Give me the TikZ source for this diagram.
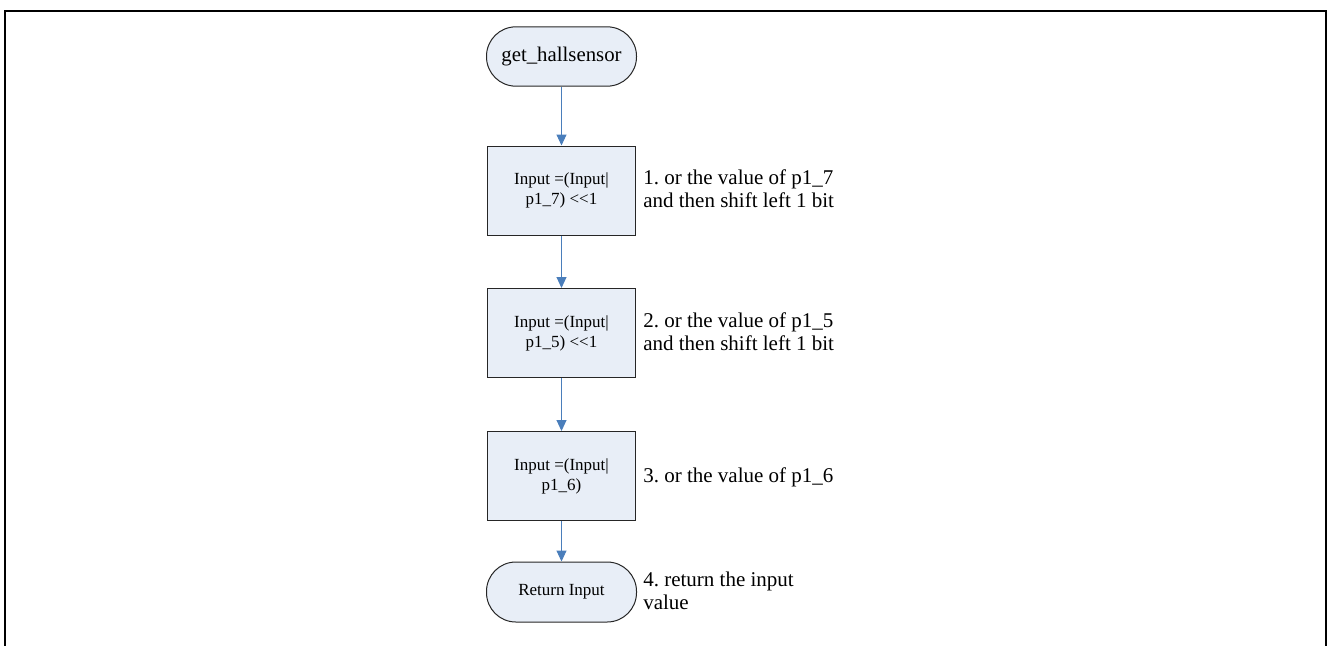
\documentclass[tikz,border=0pt]{standalone}
\usepackage{fontspec}
\setmainfont{Liberation Serif}
\usetikzlibrary{arrows.meta}

\definecolor{boxfill}{HTML}{E8EEF7}
\definecolor{boxline}{HTML}{262626}
\definecolor{flowblue}{HTML}{4A7EBB}

\begin{document}
\frenchspacing
\begin{tikzpicture}[x=0.75pt,y=-0.75pt,
  box/.style={draw=boxline, fill=boxfill, line width=0.75pt,
    minimum width=111pt, minimum height=66.75pt, inner sep=0pt,
    align=center, font=\fontsize{12.75}{15}\selectfont},
  term/.style={draw=boxline, fill=boxfill, line width=0.75pt,
    rounded corners=22pt, minimum width=112.5pt, minimum height=44.5pt,
    inner sep=0pt, align=center},
  note/.style={anchor=west, align=left, inner sep=0pt,
    font=\fontsize{15.75}{17}\selectfont},
  flow/.style={-{Triangle[length=8.25pt,width=7.5pt]}, draw=flowblue,
    line width=0.75pt}]

\useasboundingbox (0,0) rectangle (1328,646);

% frame (open at the bottom)
\draw[line width=1.5pt, line cap=rect] (5,646) -- (5,10.5) -- (1326,10.5) -- (1326,646);

% flow nodes
\node[term, font=\fontsize{15.6}{18}\selectfont] (start) at (561.5,56.5) {get\_hallsensor};
\node[box] (b1) at (561.5,190.5) {Input =(Input|\\p1\_7) <\kern0pt<1};
\node[box] (b2) at (561.5,333) {Input =(Input|\\p1\_5) <\kern0pt<1};
\node[box] (b3) at (561.5,476) {Input =(Input|\\p1\_6)};
\node[term, minimum height=45pt, font=\fontsize{12.75}{15}\selectfont] (ret) at (561.5,592) {Return Input};

% connectors
\draw[flow] (start.south) -- (b1.north);
\draw[flow] (b1.south) -- (b2.north);
\draw[flow] (b2.south) -- (b3.north);
\draw[flow] (b3.south) -- (ret.north);

% explanations
\node[note] (n1) at (643,189) {1. or the value of p1\_7\\and then shift left 1 bit};
\node[note] (n2) at (643,331.5) {2. or the value of p1\_5\\and then shift left 1 bit};
\node[note] (n3) at (643,477) {3. or the value of p1\_6};
\node[note] (n4) at (643,590.5) {4. return the input\\value};
\end{tikzpicture}
\end{document}
